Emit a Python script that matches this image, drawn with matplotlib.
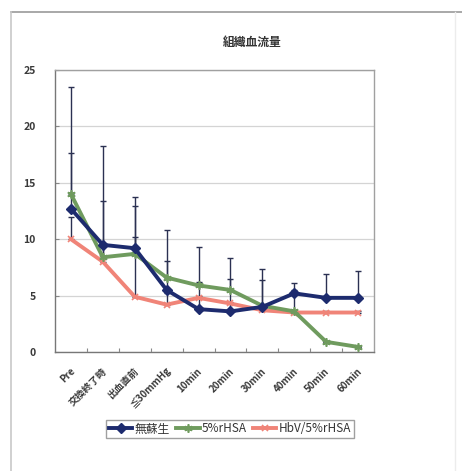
import matplotlib
matplotlib.use("Agg")
import matplotlib.pyplot as plt
from matplotlib.lines import Line2D

plt.rcParams['font.family'] = ['Noto Sans CJK JP', 'DejaVu Sans']

categories = ['Pre', '交換終了時', '出血直前', '≦30mmHg', '10min', '20min',
              '30min', '40min', '50min', '60min']

no_resus = [12.7, 9.5, 9.2, 5.5, 3.8, 3.6, 4.0, 5.2, 4.8, 4.8]
no_resus_err = [10.8, 8.8, 4.5, 2.6, 5.5, 4.7, 3.4, 0.9, 2.1, 2.4]

rhsa = [14.0, 8.4, 8.7, 6.6, 5.9, 5.5, 4.1, 3.6, 0.9, 0.45]
rhsa_err = [3.6, 5.0, 4.2, 4.2, 0.3, 1.0, 2.3, 1.9, 0.0, 0.0]

hbv = [10.0, 8.0, 4.9, 4.2, 4.8, 4.3, 3.7, 3.5, 3.5, 3.5]
hbv_err = [2.0, 1.4, 5.3, 1.0, 0.2, 0.15, 0.1, 0.1, 0.1, 0.1]

series_names = ['無蘇生', '5%rHSA', 'HbV/5%rHSA']
yticks = [0, 5, 10, 15, 20, 25]

W, H = 462, 471
fig = plt.figure(figsize=(W / 100, H / 100), dpi=100)
fig.patch.set_facecolor('white')

# outer chart-area frame
fig.add_artist(Line2D([11 / W, 1.0], [1 - 12 / H, 1 - 12 / H], color='#9a9a9a', lw=1.2))
fig.add_artist(Line2D([11 / W, 11 / W], [0, 1 - 12 / H], color='#c8c8c8', lw=1.2))
fig.add_artist(Line2D([455 / W, 455 / W], [0, 1 - 12 / H], color='#ececec', lw=1.0))

ax = fig.add_axes([55 / W, 1 - 352 / H, (374 - 55) / W, (352 - 70) / H])
x = list(range(len(categories)))

err_color = '#2b3152'
c_navy = '#1d2b6e'
c_green = '#6f9b5e'
c_red = '#f08478'

for vals, errs in ((no_resus, no_resus_err), (rhsa, rhsa_err), (hbv, hbv_err)):
    ax.errorbar(x, vals, yerr=[[0] * len(errs), errs], fmt='none',
                ecolor=err_color, elinewidth=1.0, capsize=2.5, capthick=1.0, zorder=2)

ax.plot(x, hbv, color=c_red, lw=2.8, marker='x', ms=5, mew=1.2, zorder=3)
ax.plot(x, rhsa, color=c_green, lw=2.8, marker=(6, 2, 0), ms=6, mew=1.2, zorder=3)
ax.plot(x, no_resus, color=c_navy, lw=2.8, marker='D', ms=5.5, zorder=5)

ax.set_xlim(-0.5, len(categories) - 0.5)
ax.set_ylim(0, 25)
ax.set_yticks(yticks)
ax.set_yticklabels([str(v) for v in yticks], fontsize=7.5, color='#3a3a3a', fontweight='bold')
ax.yaxis.grid(True, color='#d4d4d4', lw=0.9)
ax.set_axisbelow(True)
ax.tick_params(axis='y', direction='in', length=3, color='#888888', pad=14)
ax.tick_params(axis='x', direction='in', length=3, color='#888888')
ax.set_xticks([i + 0.5 for i in x[:-1]])
ax.set_xticklabels([])
for s in ax.spines.values():
    s.set_color('#a0a0a0')
    s.set_linewidth(1.0)
ax.spines['left'].set_color('#777777')
ax.spines['bottom'].set_color('#777777')

for i, lab in enumerate(categories):
    ax.annotate(lab, xy=(i, 0), xycoords=('data', 'axes fraction'),
                xytext=(-1, -10), textcoords='offset points',
                rotation=45, rotation_mode='anchor', ha='right', va='top',
                fontsize=7, color='#3a3a3a', fontweight='bold')

fig.text(252 / W, 1 - 42 / H, '組織血流量', ha='center', va='center',
         fontsize=8.5, color='#333333', fontweight='bold')

handles = [
    Line2D([], [], color=c_navy, lw=2.8, marker='D', ms=5),
    Line2D([], [], color=c_green, lw=2.8, marker=(6, 2, 0), ms=6, mew=1.2),
    Line2D([], [], color=c_red, lw=2.8, marker='x', ms=5, mew=1.2),
]
leg = fig.legend(handles, series_names, loc='center', bbox_to_anchor=(230 / W, 1 - 429 / H),
                 ncol=3, fontsize=8.5, frameon=True, fancybox=False, handlelength=2.0,
                 handletextpad=0.2, columnspacing=0.5, borderpad=0.25, borderaxespad=0)
leg.get_frame().set_edgecolor('#888888')
leg.get_frame().set_linewidth(1.0)
for t in leg.get_texts():
    t.set_color('#333333')

fig.savefig('out.png', dpi=100, facecolor='white')
